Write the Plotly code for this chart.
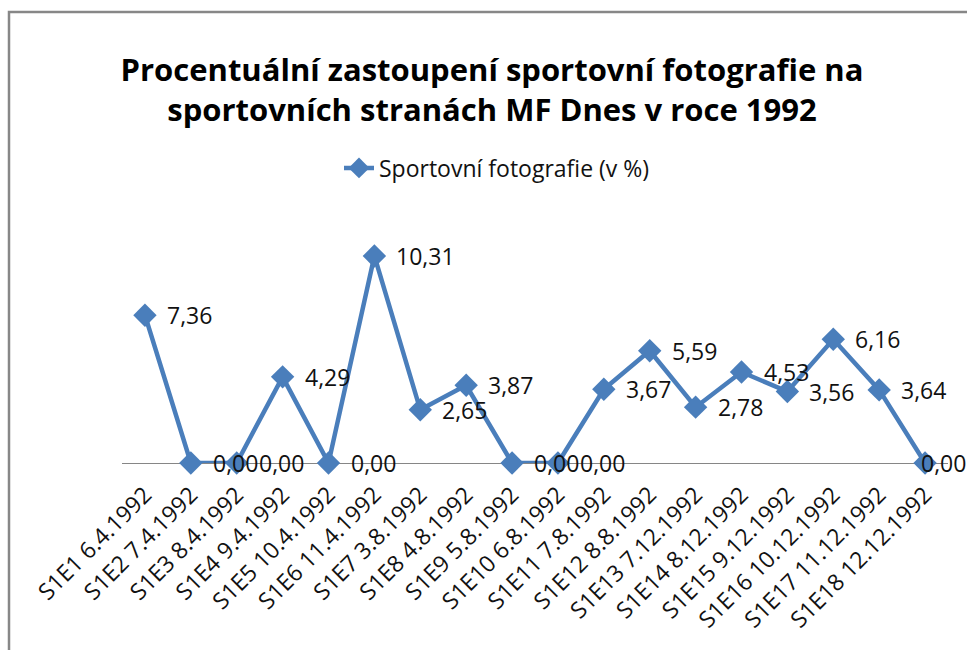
import plotly.graph_objects as go

categories = ["S1E1 6.4.1992", "S1E2 7.4.1992", "S1E3 8.4.1992", "S1E4 9.4.1992",
              "S1E5 10.4.1992", "S1E6 11.4.1992", "S1E7 3.8.1992", "S1E8 4.8.1992",
              "S1E9 5.8.1992", "S1E10 6.8.1992", "S1E11 7.8.1992", "S1E12 8.8.1992",
              "S1E13 7.12.1992", "S1E14 8.12.1992", "S1E15 9.12.1992", "S1E16 10.12.1992",
              "S1E17 11.12.1992", "S1E18 12.12.1992"]
values = [7.36, 0.00, 0.00, 4.29, 0.00, 10.31, 2.65, 3.87, 0.00, 0.00,
          3.67, 5.59, 2.78, 4.53, 3.56, 6.16, 3.64, 0.00]
labels = [f"{v:.2f}".replace(".", ",") for v in values]

W, H = 967, 650
FONT = "Open Sans"
BLUE = "#4A7EBB"


def px(x):
    return x / W


def py(y):
    return 1 - y / H


fig = go.Figure()
fig.add_trace(go.Scatter(
    x=categories, y=values, mode="lines+markers",
    name="Sportovní fotografie (v %)",
    line=dict(color=BLUE, width=4.5),
    marker=dict(symbol="diamond", size=18, color=BLUE),
    cliponaxis=False,
))

n = len(categories)
for i, (c, v, t) in enumerate(zip(categories, values, labels)):
    # the last label is pushed back inside the chart edge, as in the original
    shift = -6 if i == n - 1 else 20
    fig.add_annotation(x=c, y=v, text=t, showarrow=False, xanchor="left",
                       yanchor="middle", xshift=shift,
                       font=dict(family=FONT, size=23, color="#111111"))

fig.add_shape(type="rect", xref="paper", yref="paper",
              x0=px(9), x1=1.05, y0=-0.05, y1=py(12),
              line=dict(color="#878787", width=2.5), fillcolor="rgba(0,0,0,0)")

fig.update_layout(
    width=W, height=H, autosize=False,
    margin=dict(l=0, r=0, t=0, b=0),
    paper_bgcolor="white", plot_bgcolor="white",
    title=dict(text="<b>Procentuální zastoupení sportovní fotografie na<br>sportovních stranách MF Dnes v roce 1992</b>",
               x=px(492), xanchor="center", y=py(81), yanchor="middle",
               font=dict(family=FONT, size=31, color="#000000")),
    showlegend=True,
    legend=dict(orientation="h", x=px(497), xanchor="center", y=py(168), yanchor="middle",
                font=dict(family=FONT, size=23, color="#111111"),
                bgcolor="rgba(0,0,0,0)"),
    xaxis=dict(domain=[px(122), px(948)], range=[-0.5, n - 0.5],
               showgrid=False, zeroline=False,
               showline=True, linecolor="#868686", linewidth=1.2,
               layer="below traces", ticks="", tickangle=-45,
               tickfont=dict(family=FONT, size=23, color="#111111"),
               ticklabelstandoff=8, automargin=False),
    yaxis=dict(domain=[py(463), py(222)], range=[0, 12],
               showgrid=False, zeroline=False, showline=False,
               showticklabels=False, ticks="", automargin=False),
)

fig.write_html("out.html", config={"displayModeBar": False},
               post_script="document.body.style.margin='0';document.body.style.overflow='hidden';")
